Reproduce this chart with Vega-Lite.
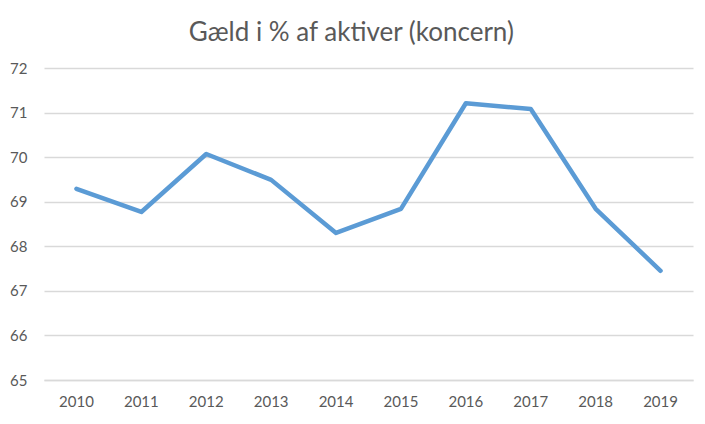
{
  "$schema": "https://vega.github.io/schema/vega-lite/v6.json",
  "width": 649,
  "height": 312,
  "autosize": "none",
  "padding": {"left": 44, "top": 68, "right": 12, "bottom": 44},
  "background": "white",
  "title": {
    "text": "Gæld i % af aktiver (koncern)",
    "font": "Lato",
    "fontSize": 26,
    "fontWeight": "normal",
    "color": "#595959",
    "anchor": "middle",
    "frame": "bounds",
    "offset": 15
  },
  "data": {
    "values": [
      {"year": "2010", "value": 69.29},
      {"year": "2011", "value": 68.77},
      {"year": "2012", "value": 70.07},
      {"year": "2013", "value": 69.49},
      {"year": "2014", "value": 68.30},
      {"year": "2015", "value": 68.84},
      {"year": "2016", "value": 71.21},
      {"year": "2017", "value": 71.08},
      {"year": "2018", "value": 68.84},
      {"year": "2019", "value": 67.45}
    ]
  },
  "mark": {"type": "line", "color": "#5B9BD5", "strokeWidth": 4.5, "strokeCap": "round", "strokeJoin": "round"},
  "encoding": {
    "x": {
      "field": "year",
      "type": "ordinal",
      "scale": {"type": "band", "paddingInner": 0, "paddingOuter": 0},
      "axis": {
        "title": null,
        "labelAngle": 0,
        "labelFont": "Lato",
        "labelFontSize": 15,
        "labelColor": "#595959",
        "labelPadding": 14,
        "ticks": false,
        "domainColor": "#D9D9D9",
        "domainWidth": 1.5,
        "grid": false
      }
    },
    "y": {
      "field": "value",
      "type": "quantitative",
      "scale": {"domain": [65, 72], "nice": false, "zero": false},
      "axis": {
        "title": null,
        "values": [65, 66, 67, 68, 69, 70, 71, 72],
        "labelFont": "Lato",
        "labelFontSize": 15,
        "labelColor": "#595959",
        "labelPadding": 17,
        "ticks": false,
        "domain": false,
        "grid": true,
        "gridColor": "#D9D9D9",
        "gridWidth": 1.5
      }
    }
  },
  "config": {"view": {"stroke": null}}
}
